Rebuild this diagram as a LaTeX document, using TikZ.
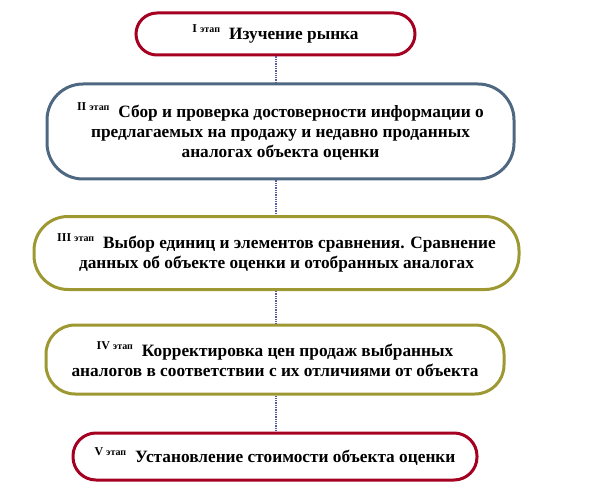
\documentclass[tikz,border=0pt]{standalone}
\usepackage{fontspec}
\setmainfont{Liberation Serif}
\definecolor{stRed}{HTML}{A50021}
\definecolor{stBlue}{HTML}{4F6882}
\definecolor{stOlive}{HTML}{9E9832}
\definecolor{stLink}{HTML}{5A5AA0}
\newcommand{\stlabel}[1]{\raisebox{7pt}{\fontsize{12}{12}\selectfont\bfseries #1~{\fontsize{10}{10}\selectfont этап}}\hspace{9pt}}
\tikzset{
  stagebox/.style={draw, line width=3pt, inner sep=0pt, align=center,
    font=\fontsize{17.3}{20}\selectfont\bfseries},
  linkline/.style={draw=stLink, line width=1.3pt, densely dotted}
}
\begin{document}
\begin{tikzpicture}[x=1pt,y=-1pt]
\useasboundingbox (0,0) rectangle (592,492);
\node[stagebox, draw=stRed, minimum width=279pt, minimum height=42pt, rounded corners=21pt] (b1) at (275.5,34) {\stlabel{I}Изучение рынка};
\node[stagebox, draw=stBlue, minimum width=467pt, minimum height=95pt, rounded corners=36pt] (b2) at (280.5,131.5) {\stlabel{II}Сбор и проверка достоверности информации о\\предлагаемых на продажу и недавно проданных\\аналогах объекта оценки};
\node[stagebox, draw=stOlive, minimum width=485pt, minimum height=73pt, rounded corners=34pt] (b3) at (276.5,253) {\stlabel{III}Выбор единиц и элементов сравнения. Сравнение\\данных об объекте оценки и отобранных аналогах};
\node[stagebox, draw=stOlive, minimum width=458pt, minimum height=69pt, rounded corners=29pt] (b4) at (275,359.5) {\stlabel{IV}Корректировка цен продаж выбранных\\аналогов в соответствии с их отличиями от объекта};
\node[stagebox, draw=stRed, minimum width=404pt, minimum height=47pt, rounded corners=23pt] (b5) at (275,456.5) {\stlabel{V}Установление стоимости объекта оценки};
\draw[linkline] (b1.south -| 276,0) -- (b2.north -| 276,0);
\draw[linkline] (b2.south -| 276,0) -- (b3.north -| 276,0);
\draw[linkline] (b3.south -| 276,0) -- (b4.north -| 276,0);
\draw[linkline] (b4.south -| 276,0) -- (b5.north -| 276,0);
\end{tikzpicture}
\end{document}
